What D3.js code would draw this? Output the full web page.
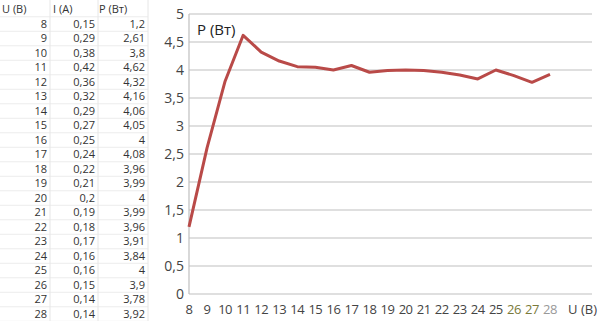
<!DOCTYPE html>
<html>
<head>
<meta charset="utf-8">
<script src="https://cdn.jsdelivr.net/npm/d3@7"></script>
<style>
  body { margin: 0; background: #fff; }
  svg { display: block; font-family: "Open Sans", "Noto Sans", sans-serif; }
</style>
</head>
<body>
<svg id="chart" width="600" height="321"></svg>
<script>
// table + chart data
var voltage = [8, 9, 10, 11, 12, 13, 14, 15, 16, 17, 18, 19, 20, 21, 22, 23, 24, 25, 26, 27, 28];
var current = ["0,15", "0,29", "0,38", "0,42", "0,36", "0,32", "0,29", "0,27", "0,25", "0,24", "0,22",
               "0,21", "0,2", "0,19", "0,18", "0,17", "0,16", "0,16", "0,15", "0,14", "0,14"];
var power = [1.2, 2.61, 3.8, 4.62, 4.32, 4.16, 4.06, 4.05, 4, 4.08, 3.96, 3.99, 4, 3.99, 3.96, 3.91, 3.84, 4, 3.9, 3.78, 3.92];
var headers = ["U (В)", "I (А)", "P (Вт)"];
var yTicks = [0, 0.5, 1, 1.5, 2, 2.5, 3, 3.5, 4, 4.5, 5];

var svg = d3.select("#chart");
var comma = function(v){ return String(v).replace(".", ","); };

// ---- spreadsheet table on the left ----
var row = d3.scaleLinear().domain([0, 20]).range([24, 314]);
var rowH = 14.5;
var colLines = [50, 98, 148];
var colRight = [47, 95, 145];
var colLeft = [2, 53, 99];

var tbl = svg.append("g");
tbl.selectAll(".hline")
    .data(d3.range(22))
    .enter().append("line")
    .attr("x1", 0).attr("x2", 148)
    .attr("y1", function(d){ return row(d) - rowH / 2; })
    .attr("y2", function(d){ return row(d) - rowH / 2; })
    .style("stroke", "#ececec");
tbl.selectAll(".vline")
    .data(colLines)
    .enter().append("line")
    .attr("x1", function(d){ return d; }).attr("x2", function(d){ return d; })
    .attr("y1", 0).attr("y2", 321)
    .style("stroke", "#e6e6e6");

tbl.selectAll(".hdr")
    .data(headers)
    .enter().append("text")
    .attr("x", function(d, i){ return colLeft[i]; })
    .attr("y", 9)
    .attr("dy", "0.35em")
    .style("font-size", "11px").style("fill", "#333")
    .text(function(d){ return d; });

var cols = [voltage.map(String), current, power.map(comma)];
cols.forEach(function(vals, c){
    tbl.selectAll(".c" + c)
        .data(vals)
        .enter().append("text")
        .attr("x", colRight[c])
        .attr("y", function(d, i){ return row(i); })
        .attr("dy", "0.35em")
        .attr("text-anchor", "end")
        .style("font-size", "11px").style("fill", "#333")
        .text(function(d){ return d; });
});

// ---- line chart ----
var x = d3.scaleLinear().domain([8, 28]).range([189, 550]);
var y = d3.scaleLinear().domain([0, 5]).range([294, 14]);
var plotRight = 592;

svg.selectAll(".grid")
    .data(yTicks)
    .enter().append("line")
    .attr("x1", x(8)).attr("x2", plotRight)
    .attr("y1", function(d){ return y(d); })
    .attr("y2", function(d){ return y(d); })
    .style("stroke", "#bfbfbf").style("stroke-width", 1.2);

svg.append("line")
    .attr("x1", x(8)).attr("x2", x(8))
    .attr("y1", y(5)).attr("y2", y(0))
    .style("stroke", "#bfbfbf").style("stroke-width", 1.2);

svg.selectAll(".ylab")
    .data(yTicks)
    .enter().append("text")
    .attr("x", 184)
    .attr("y", function(d){ return y(d); })
    .attr("dy", "0.35em")
    .attr("text-anchor", "end")
    .style("font-size", "14px").style("fill", "#444")
    .text(comma);

svg.selectAll(".xlab")
    .data(voltage)
    .enter().append("text")
    .attr("x", function(d){ return x(d); })
    .attr("y", 309)
    .attr("dy", "0.35em")
    .attr("text-anchor", "middle")
    .style("font-size", "13px")
    .style("letter-spacing", "-0.5px")
    .style("fill", function(d){ return d == 28 ? "#999" : (d >= 26 ? "#7a7a3a" : "#444"); })
    .text(function(d){ return d; });

svg.append("text")
    .attr("x", 597).attr("y", 309).attr("dy", "0.35em")
    .attr("text-anchor", "end")
    .style("font-size", "13px").style("fill", "#444")
    .text("U (В)");

svg.append("text")
    .attr("x", 197).attr("y", 30).attr("dy", "0.35em")
    .style("font-size", "15px").style("fill", "#222")
    .text("P (Вт)");

var line = d3.line()
    .x(function(d, i){ return x(voltage[i]); })
    .y(function(d){ return y(d); });

svg.append("path")
    .datum(power)
    .attr("d", line)
    .style("fill", "none")
    .style("stroke", "#b94a48")
    .style("stroke-width", 3)
    .style("stroke-linejoin", "round");
</script>
</body>
</html>
